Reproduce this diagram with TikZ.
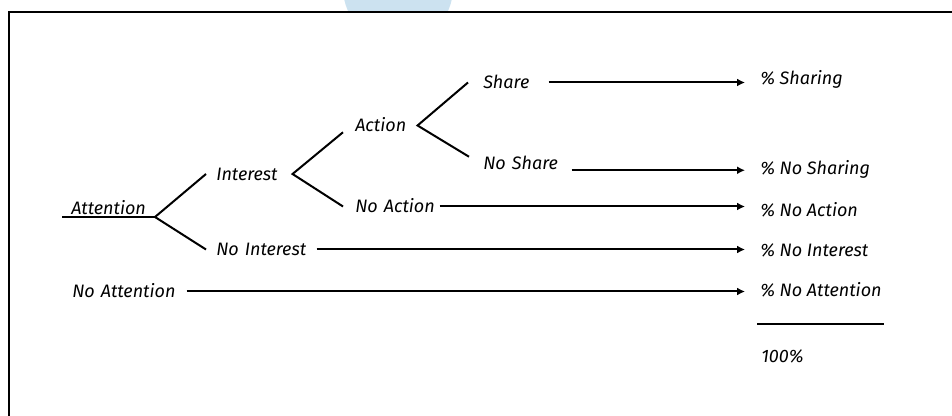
\documentclass[tikz,border=0pt]{standalone}
\usepackage{fontspec}
\setmainfont{Fira Sans}
\usetikzlibrary{arrows.meta}
\definecolor{badge}{RGB}{204,226,240}
\begin{document}
\begin{tikzpicture}[x=0.75pt,y=-0.75pt,
  lbl/.style={anchor=west, inner ysep=0pt, text height=9.75pt, text depth=0pt,
    font=\itshape\fontsize{13.5}{16}\selectfont, align=left},
  edge/.style={line width=1.5pt},
  flow/.style={line width=1.5pt, -{Latex[length=6pt,width=6pt]}}]
  \useasboundingbox (0,0) rectangle (952,416);
  \clip (0,0) rectangle (952,416);

  % badge peeking over the top edge, cut off by the frame
  \begin{scope}
    \clip (0,0) rectangle (952,12);
    \fill[badge] (398,-12) circle[radius=41.25pt];
  \end{scope}
  % open frame
  \draw[line width=1.5pt] (9,430) -- (9,12) -- (960,12);

  % tree labels
  \node[lbl, inner xsep=0pt] (att) at (71,208) {Attention};
  \node[lbl, inner xsep=7.5pt, text width=49.5pt] (int) at (206,174) {\mbox{Interest}};
  \node[lbl, inner xsep=7.5pt, text width=67.5pt] (nint) at (206,249.5) {\mbox{No Interest}};
  \node[lbl, inner xsep=9pt, text width=37.5pt] (act) at (343,125.5) {\mbox{Action}};
  \node[lbl, inner xsep=9pt, text width=54pt] (noact) at (343,206.5) {\mbox{No Action}};
  \node[lbl, inner xsep=11.25pt, text width=37.5pt] (sh) at (468,82.5) {\mbox{Share}};
  \node[lbl, inner xsep=10.5pt, text width=55.5pt] (nsh) at (469,163.5) {\mbox{No Share}};
  \node[lbl, inner xsep=9.75pt, text width=75.75pt] (noatt) at (59,291.5) {\mbox{No Attention}};

  % outcome labels
  \node[lbl, inner xsep=11.25pt] (psh) at (745,78.5) {\% Sharing};
  \node[lbl, inner xsep=11.25pt] (pnsh) at (745,168.5) {\% No Sharing};
  \node[lbl, inner xsep=11.25pt] (pna) at (745,210.5) {\% No Action};
  \node[lbl, inner xsep=11.25pt] (pni) at (745,250.5) {\% No Interest};
  \node[lbl, inner xsep=11.25pt] (pnat) at (745,290) {\% No Attention};
  \node[lbl, inner xsep=11.25pt] (tot) at (746,355.5) {100\%};

  % branches
  \coordinate (attL) at (62,217);
  \coordinate (j0) at (155,217);
  \draw[edge] (attL) -- (j0);
  \draw[edge] (int.west) -- (j0) -- (nint.west);
  \draw[edge] (act.south west) -- (int.east) -- (noact.west);
  \draw[edge] (sh.west) -- (act.east) -- (nsh.north west);

  % outcome arrows
  \draw[flow] (sh.east) -- (sh.east -| psh.west);
  \draw[flow] (nsh.south east) -- (nsh.south east -| pnsh.west);
  \draw[flow] (noact.east) -- (noact.east -| pna.west);
  \draw[flow] (nint.east) -- (nint.east -| pni.west);
  \draw[flow] (noatt.east) -- (noatt.east -| pnat.west);

  % total rule
  \coordinate (sumL) at (757,324);
  \coordinate (sumR) at (884,324);
  \draw[edge] (sumL) -- (sumR);
\end{tikzpicture}
\end{document}
